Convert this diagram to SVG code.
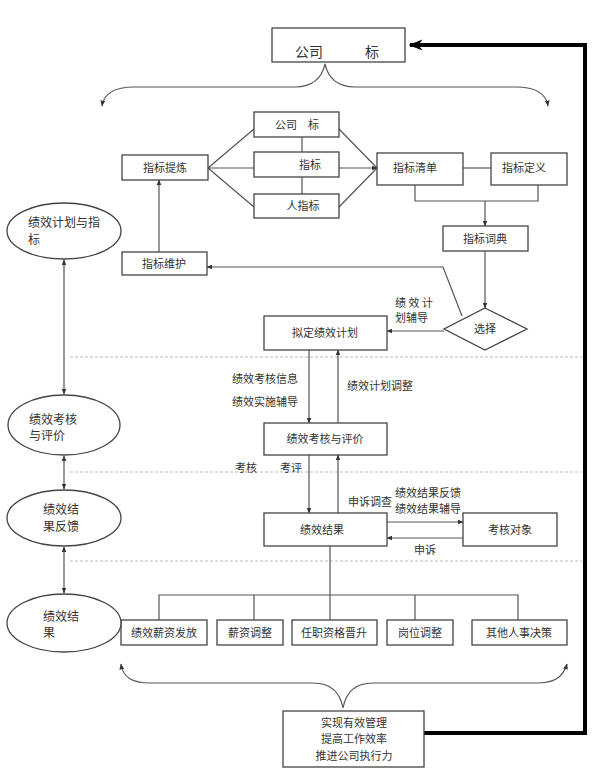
<svg xmlns="http://www.w3.org/2000/svg" width="600" height="784" viewBox="0 0 600 784">
<style>
text{font-family:"Noto Sans CJK SC","Noto Sans CJK TC",sans-serif;fill:#333;font-size:11px}
.c{text-anchor:middle}
.box{fill:#fff;stroke:#444;stroke-width:1.3}
.ln{fill:none;stroke:#555;stroke-width:1.2}
.sep{fill:none;stroke:#bbb;stroke-width:1.2;stroke-dasharray:3 2}
.thick{fill:none;stroke:#000;stroke-width:4}
.el{font-size:12px}
</style>
<defs>
<marker id="a" viewBox="0 0 10 10" refX="9" refY="5" markerWidth="6" markerHeight="6" orient="auto-start-reverse" markerUnits="userSpaceOnUse">
<path d="M0,1 L10,5 L0,9 Z" fill="#333"/>
</marker>
<marker id="big" viewBox="0 0 10 10" refX="9" refY="5" markerWidth="14" markerHeight="14" orient="auto" markerUnits="userSpaceOnUse">
<path d="M0,1 L10,5 L0,9 L3,5 Z" fill="#000"/>
</marker>
</defs>
<rect width="600" height="784" fill="#fff"/>

<g id="connectors">
<!-- separators -->
<path class="sep" d="M70,357 H582 M70,472 H582 M70,561 H582"/>
<!-- thick feedback loop -->
<polyline class="thick" points="424,733 585,733 585,45 410,45" marker-end="url(#big)"/>
<!-- braces -->
<path class="ln" d="M102,106 C104,93 114,87 134,87 L295,87 C312,87 322,78 325,64 C328,78 338,87 355,87 L516,87 C536,87 546,93 548,106" marker-start="url(#a)" marker-end="url(#a)"/>
<path class="ln" d="M121,664 C123,678 133,683 150,683 L313,683 C330,683 340,692 343,708 C346,692 356,683 373,683 L537,683 C553,683 563,678 567,664" marker-start="url(#a)" marker-end="url(#a)"/>
<!-- left vertical double arrows -->
<line class="ln" x1="64" y1="260" x2="64" y2="394" marker-start="url(#a)" marker-end="url(#a)"/>
<line class="ln" x1="64" y1="456" x2="64" y2="489" marker-start="url(#a)" marker-end="url(#a)"/>
<line class="ln" x1="64" y1="547" x2="64" y2="593" marker-start="url(#a)" marker-end="url(#a)"/>
<!-- fan out from 指标提炼 -->
<path class="ln" d="M208,168 L254,129 M208,168 L254,168 M208,168 L254,207"/>
<line class="ln" x1="302" y1="137" x2="302" y2="194"/>
<path class="ln" d="M339,129 L377,168 M339,207 L377,168"/>
<line class="ln" x1="339" y1="168" x2="377" y2="168" marker-end="url(#a)"/>
<line class="ln" x1="463" y1="168" x2="491" y2="168"/>
<polyline class="ln" points="415,185 415,201 538,201 538,185"/>
<line class="ln" x1="485" y1="201" x2="485" y2="226" marker-end="url(#a)"/>
<line class="ln" x1="485" y1="251" x2="485" y2="308" marker-end="url(#a)"/>
<polyline class="ln" points="462,316 443,267 207,267" marker-end="url(#a)"/>
<line class="ln" x1="159" y1="252" x2="159" y2="180" marker-end="url(#a)"/>
<line class="ln" x1="444" y1="331" x2="387" y2="331" marker-end="url(#a)"/>
<line class="ln" x1="309" y1="350" x2="309" y2="423" marker-end="url(#a)"/>
<line class="ln" x1="338" y1="423" x2="338" y2="350" marker-end="url(#a)"/>
<line class="ln" x1="309" y1="455" x2="309" y2="513" marker-end="url(#a)"/>
<line class="ln" x1="338" y1="513" x2="338" y2="455" marker-end="url(#a)"/>
<line class="ln" x1="387" y1="522" x2="463" y2="522" marker-end="url(#a)"/>
<line class="ln" x1="463" y1="538" x2="387" y2="538" marker-end="url(#a)"/>
<path class="ln" d="M330,546 V595 M159,620 V595 H518 V620 M254,595 V620 M330,595 V620 M415,595 V620"/>
<!-- labels -->
<text x="395" y="307">绩 效 计</text>
<text x="395" y="322">划辅导</text>
<text x="232" y="383">绩效考核信息</text>
<text x="232" y="406">绩效实施辅导</text>
<text x="347" y="390">绩效计划调整</text>
<text class="c" x="246" y="472">考核</text>
<text class="c" x="291" y="472">考评</text>
<text class="c" x="370" y="506">申诉调查</text>
<text class="c" x="428" y="497">绩效结果反馈</text>
<text class="c" x="428" y="513">绩效结果辅导</text>
<text class="c" x="425" y="554">申诉</text>
</g>

<g id="n-top"><rect class="box" x="272" y="28" width="133" height="34"/><text class="c" x="337" y="57" style="font-size:14px">公司　　　标</text></g>
<g id="n-tilian"><rect class="box" x="122" y="155" width="86" height="25"/><text class="c" x="165" y="172">指标提炼</text></g>
<g id="n-gongsi"><rect class="box" x="254" y="112" width="85" height="25"/><text class="c" x="297" y="129">公司　标</text></g>
<g id="n-zhibiao"><rect class="box" x="254" y="152" width="85" height="25"/><text class="c" x="310" y="169">指标</text></g>
<g id="n-ren"><rect class="box" x="254" y="194" width="85" height="24"/><text class="c" x="303" y="210">人指标</text></g>
<g id="n-qingdan"><rect class="box" x="377" y="153" width="86" height="32"/><text class="c" x="415" y="172">指标清单</text></g>
<g id="n-dingyi"><rect class="box" x="491" y="153" width="76" height="32"/><text class="c" x="524" y="172">指标定义</text></g>
<g id="n-cidian"><rect class="box" x="443" y="226" width="85" height="25"/><text class="c" x="485" y="243">指标词典</text></g>
<g id="n-xuanze"><polygon class="box" points="485,308 527,329 485,350 444,329"/><text class="c" x="485" y="333">选择</text></g>
<g id="n-weihu"><rect class="box" x="122" y="252" width="85" height="23"/><text class="c" x="164" y="268">指标维护</text></g>
<g id="n-niding"><rect class="box" x="264" y="316" width="123" height="34"/><text class="c" x="325" y="337">拟定绩效计划</text></g>
<g id="n-kaohe"><rect class="box" x="264" y="423" width="123" height="32"/><text class="c" x="325" y="443">绩效考核与评价</text></g>
<g id="n-jieguo"><rect class="box" x="264" y="513" width="123" height="33"/><text class="c" x="322" y="534">绩效结果</text></g>
<g id="n-duixiang"><rect class="box" x="463" y="513" width="94" height="33"/><text class="c" x="510" y="534">考核对象</text></g>
<g id="n-b1"><rect class="box" x="121" y="620" width="86" height="25"/><text class="c" x="164" y="637">绩效薪资发放</text></g>
<g id="n-b2"><rect class="box" x="217" y="620" width="66" height="25"/><text class="c" x="250" y="637">薪资调整</text></g>
<g id="n-b3"><rect class="box" x="292" y="620" width="85" height="25"/><text class="c" x="334" y="637">任职资格晋升</text></g>
<g id="n-b4"><rect class="box" x="387" y="620" width="66" height="25"/><text class="c" x="420" y="637">岗位调整</text></g>
<g id="n-b5"><rect class="box" x="472" y="620" width="95" height="25"/><text class="c" x="519" y="637">其他人事决策</text></g>
<g id="n-goal"><rect class="box" x="283" y="711" width="141" height="56"/>
<text class="c" x="354" y="727">实现有效管理</text>
<text class="c" x="354" y="743">提高工作效率</text>
<text class="c" x="354" y="760">推进公司执行力</text></g>
<g id="n-e1"><ellipse class="box" cx="64" cy="231" rx="57" ry="28"/><text class="el" x="28" y="227">绩效计划与指</text><text class="el" x="28" y="244">标</text></g>
<g id="n-e2"><ellipse class="box" cx="64" cy="425" rx="56" ry="30"/><text class="el" x="29" y="424">绩效考核</text><text class="el" x="29" y="440">与评价</text></g>
<g id="n-e3"><ellipse class="box" cx="64" cy="518" rx="57" ry="28"/><text class="el" x="43" y="514">绩效结</text><text class="el" x="43" y="531">果反馈</text></g>
<g id="n-e4"><ellipse class="box" cx="64" cy="623" rx="57" ry="29"/><text class="el" x="43" y="621">绩效结</text><text class="el" x="43" y="637">果</text></g>
</svg>
